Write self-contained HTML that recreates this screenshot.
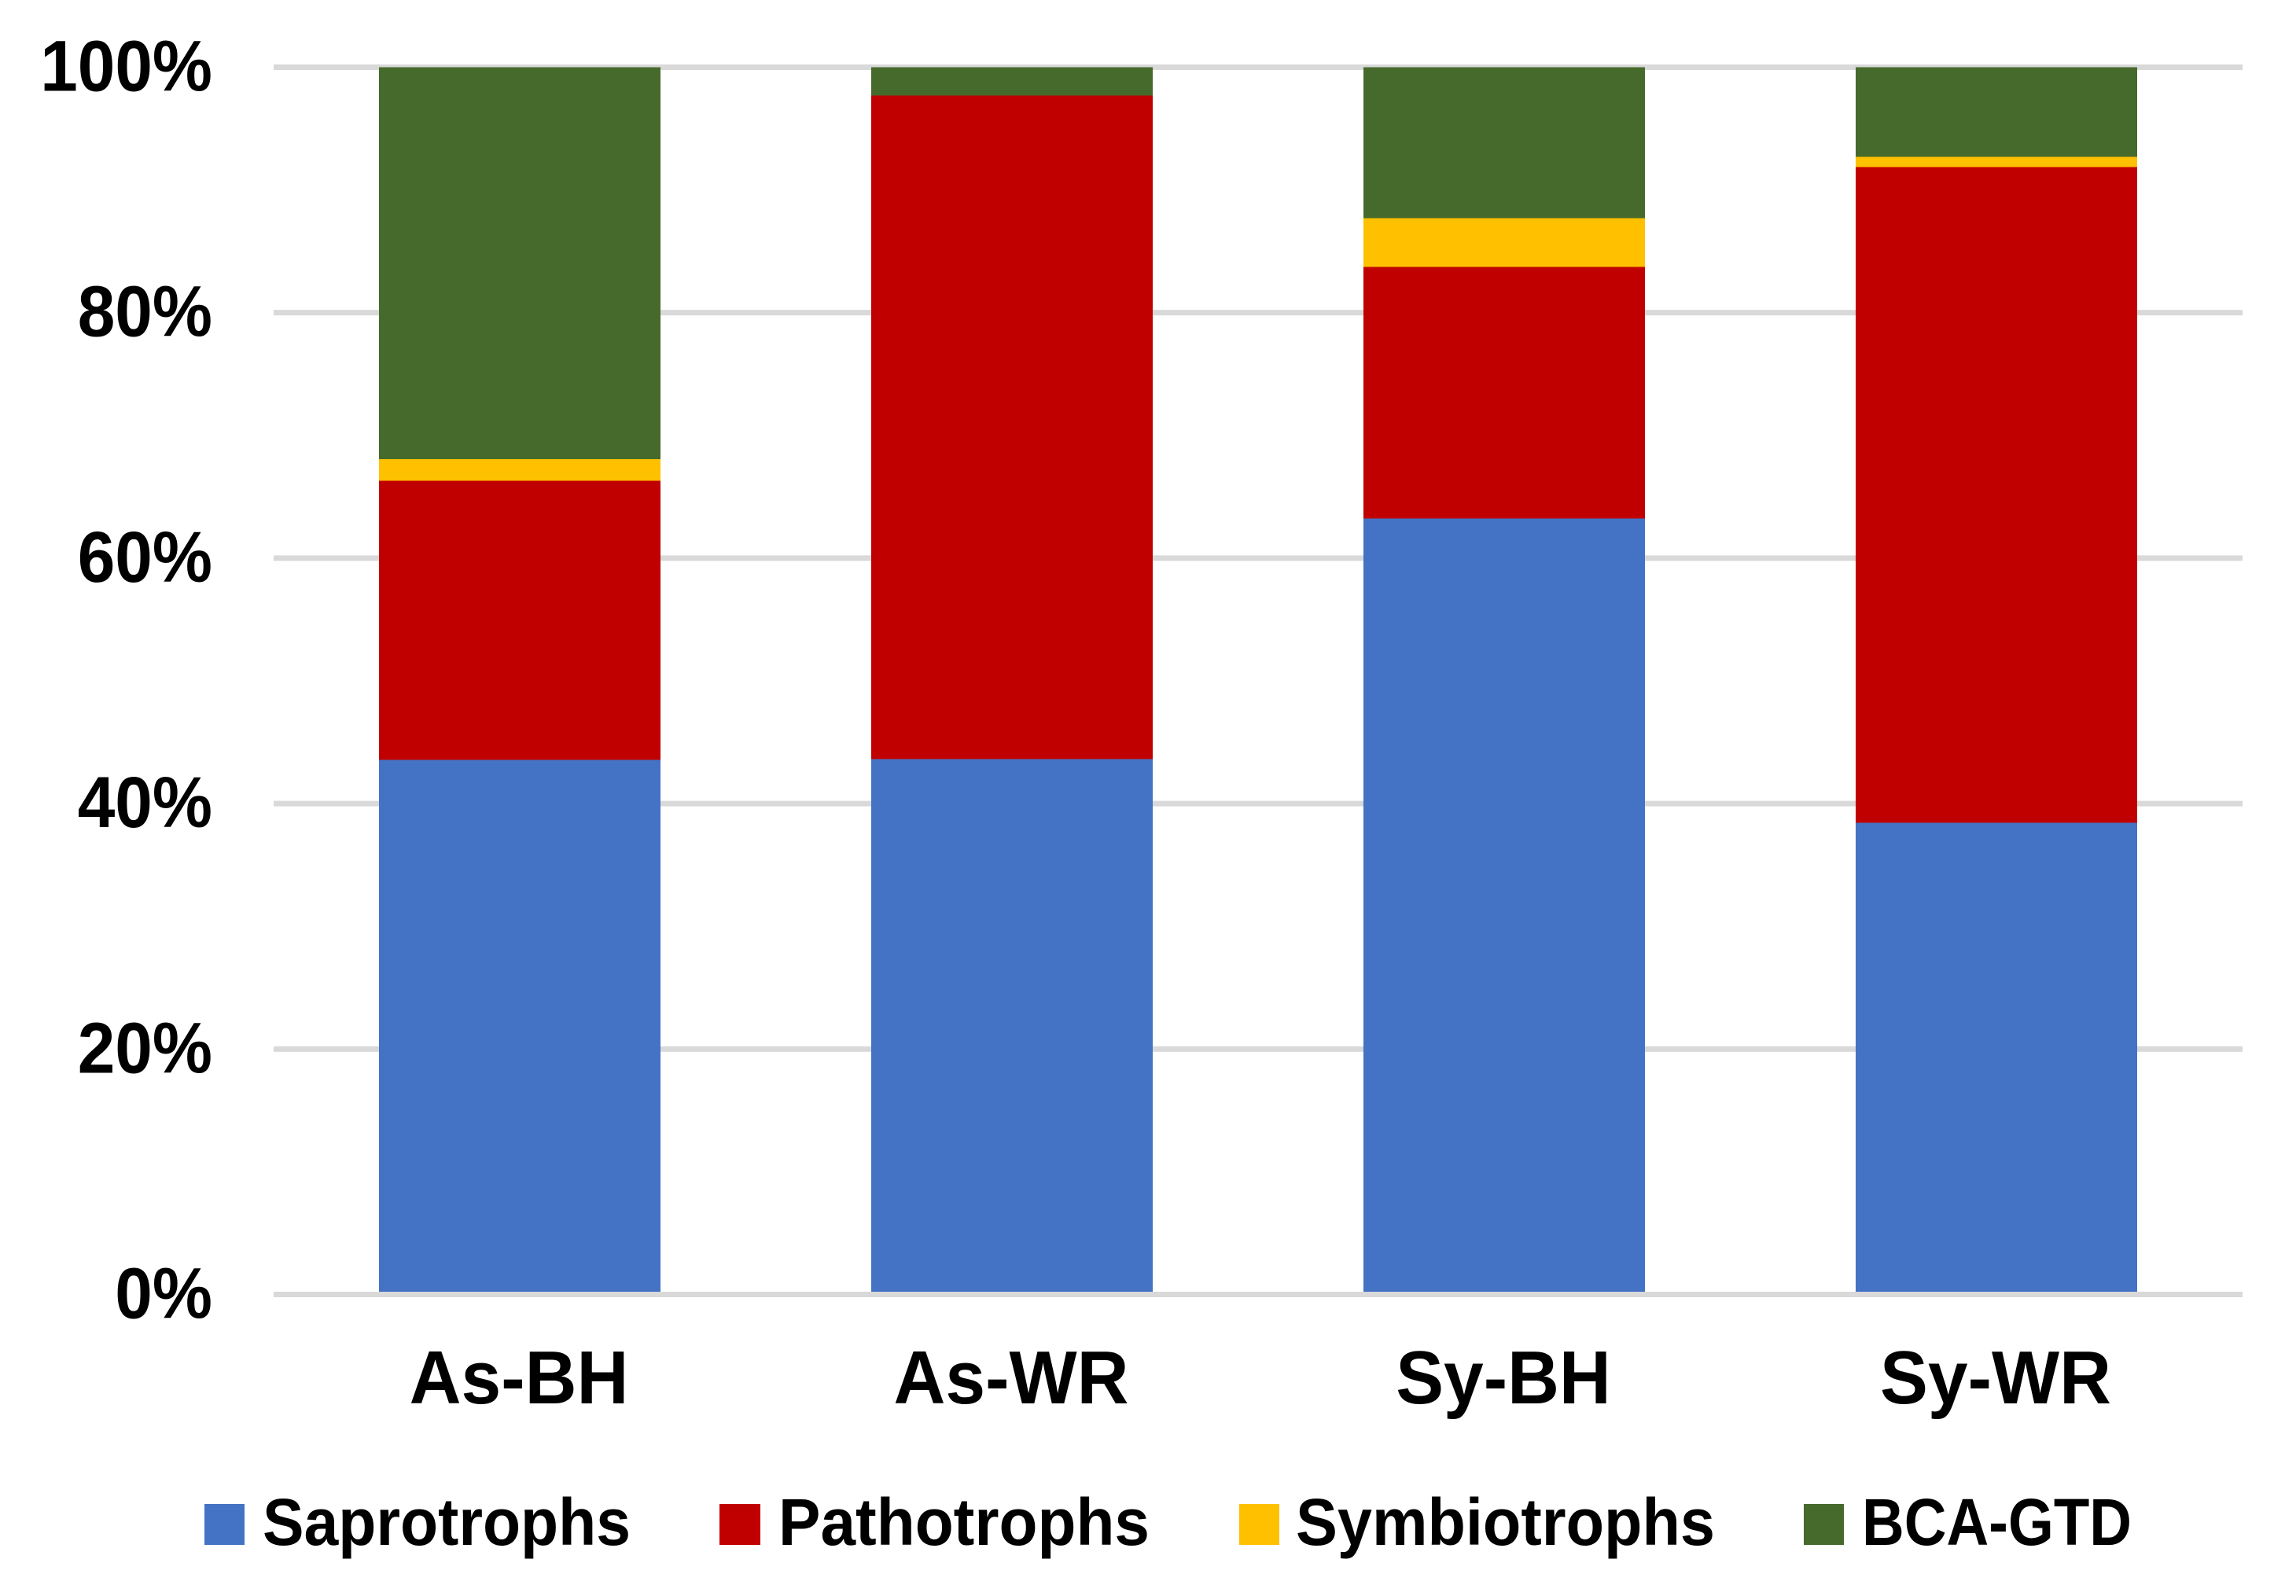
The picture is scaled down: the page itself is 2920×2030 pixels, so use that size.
<!DOCTYPE html>
<html lang="en">
<head>
<meta charset="utf-8">
<title>Stacked composition of fungal guilds</title>
<style>
html,body{margin:0;padding:0;background:#fff;width:2920px;height:2030px;overflow:hidden}
svg{display:block}
text{font-family:"Liberation Sans",sans-serif;font-weight:bold;fill:#000}
</style>
</head>
<body>
<svg id="chart" xmlns="http://www.w3.org/2000/svg" width="2920" height="2030" viewBox="0 0 2920 2030">
  <rect x="0" y="0" width="2920" height="2030" fill="#fff"/>
  <g id="grid"></g>
  <g id="bars"></g>
  <g id="baseline"></g>
  <g id="yticks"></g>
  <g id="xticks"></g>
  <g id="legend" font-size="84">
    <g>
      <rect x="260" y="1913" width="51" height="52" fill="#4472C4"/>
      <text x="334" y="1965" textLength="468" lengthAdjust="spacingAndGlyphs">Saprotrophs</text>
    </g>
    <g>
      <rect x="915" y="1913" width="52" height="52" fill="#C00000"/>
      <text x="990" y="1965" textLength="472" lengthAdjust="spacingAndGlyphs">Pathotrophs</text>
    </g>
    <g>
      <rect x="1576" y="1913" width="51" height="52" fill="#FFC000"/>
      <text x="1648" y="1965" textLength="533" lengthAdjust="spacingAndGlyphs">Symbiotrophs</text>
    </g>
    <g>
      <rect x="2294" y="1913" width="51" height="52" fill="#466A2C"/>
      <text x="2368" y="1965" textLength="343" lengthAdjust="spacingAndGlyphs">BCA-GTD</text>
    </g>
  </g>
</svg>
<script>
const categories = ['As-BH', 'As-WR', 'Sy-BH', 'Sy-WR'];
const saprotrophs = [43.56, 43.63, 63.23, 38.44];
const pathotrophs = [22.74, 54.06, 20.50, 53.42];
const symbiotrophs = [1.76, 0, 3.97, 0.84];
const bcaGtd = [31.94, 2.31, 12.30, 7.30];
const tickValues = [0, 20, 40, 60, 80, 100];
const tickLabels = ['0%', '20%', '40%', '60%', '80%', '100%'];

const NS = 'http://www.w3.org/2000/svg';
const plotLeft = 348, plotRight = 2852, plotTop = 85.5, plotBottom = 1646.5;
const barWidth = 358;

function yScale(v) { return plotBottom - (v / 100) * (plotBottom - plotTop); }
function xCenter(i) { return plotLeft + (i + 0.5) * (plotRight - plotLeft) / categories.length; }
function make(tag, attrs, parent) {
  const el = document.createElementNS(NS, tag);
  for (const k in attrs) el.setAttribute(k, attrs[k]);
  parent.appendChild(el);
  return el;
}
function squeeze(el, ratio) {
  el.setAttribute('textLength', (el.getComputedTextLength() * ratio).toFixed(1));
  el.setAttribute('lengthAdjust', 'spacingAndGlyphs');
}

const gridG = document.getElementById('grid');
const barsG = document.getElementById('bars');
const baseG = document.getElementById('baseline');
const yG = document.getElementById('yticks');
const xG = document.getElementById('xticks');

tickValues.forEach(function (v, i) {
  const parent = v === 0 ? baseG : gridG;
  const line = make('rect', { x: plotLeft, y: yScale(v) - 3.5, width: plotRight - plotLeft, height: 7, fill: '#D9D9D9' }, parent);
  
  

  const label = make('text', { x: 270, y: yScale(v) + 30, 'text-anchor': 'end', 'font-size': 92 }, yG);
  label.textContent = tickLabels[i];
  
  
  squeeze(label, 0.93);
});

const stackNames = ['saprotrophs', 'pathotrophs', 'symbiotrophs', 'bca-gtd'];
const stackValues = [saprotrophs, pathotrophs, symbiotrophs, bcaGtd];
const stackColors = ['#4472C4', '#C00000', '#FFC000', '#466A2C'];

categories.forEach(function (cat, i) {
  let cumulative = 0;
  stackValues.forEach(function (series, s) {
    const v = series[i];
    const yTop = yScale(cumulative + v);
    const yBottom = yScale(cumulative);
    cumulative += v;
    if (v <= 0) return;
    const bar = make('rect', { x: xCenter(i) - barWidth / 2, y: yTop, width: barWidth, height: yBottom - yTop, fill: stackColors[s], 'shape-rendering': 'crispEdges' }, barsG);
    
    
  });

  const label = make('text', { x: xCenter(i) - 1, y: 1785, 'text-anchor': 'middle', 'font-size': 96 }, xG);
  label.textContent = cat;
  
  
  squeeze(label, 0.95);
});
</script>
</body>
</html>
